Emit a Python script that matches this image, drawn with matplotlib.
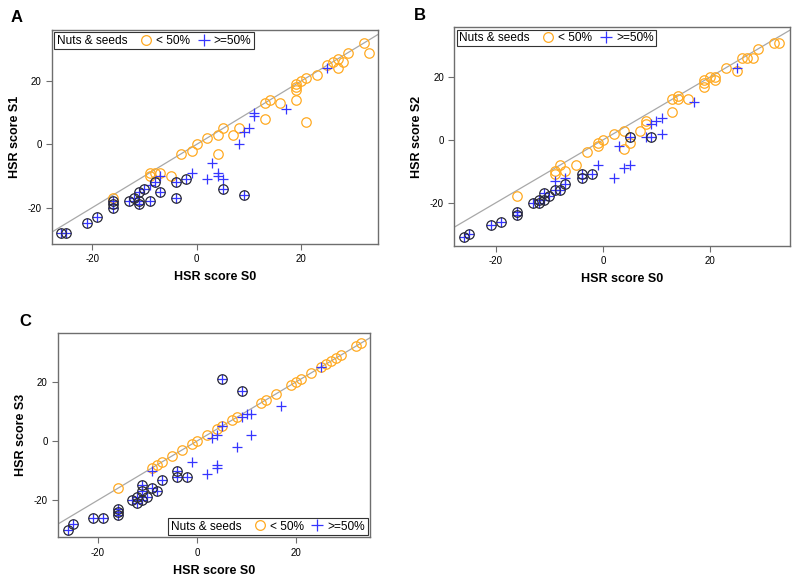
import matplotlib
matplotlib.use("Agg")
import matplotlib.pyplot as plt
from matplotlib.lines import Line2D
from matplotlib.offsetbox import HPacker

plt.rcParams['font.family'] = ['Liberation Sans', 'DejaVu Sans']
plt.rcParams['axes.unicode_minus'] = False

# ---- data (x = HSR score S0) ----
# panel A: S1
a_low_x = [32, 33, 29, 28, 27, 27, 26, 25, 23, 21, 20, 19, 19, 19, 19, 21, 14, 13, 16, 13,
           8, 7, 5, 4, 4, 2, 0, -1, -3, -5, -7, -8, -9, -9, -16]
a_low_y = [32, 29, 29, 26, 27, 24, 26, 25, 22, 21, 20, 19, 18, 17, 14, 7, 14, 13, 13, 8,
           5, 3, 5, 3, -3, 2, 0, -2, -3, -10, -9, -9, -9, -10, -17]
a_hi_x = [25, 17, 11, 11, 10, 9, 8, 3, 4, 4, 5, 2, -1, -7, -9]
a_hi_y = [24, 11, 10, 9, 5, 4, 0, -6, -9, -10, -11, -11, -9, -10, -13]
a_nut_x = [9, 5, -2, -4, -4, -7, -8, -9, -10, -11, -11, -11, -12, -13, -16, -16, -16, -19, -21, -26, -25]
a_nut_y = [-16, -14, -11, -12, -17, -15, -12, -18, -14, -15, -18, -19, -17, -18, -18, -19, -20, -23, -25, -28, -28]

# panel B: S2
b_low_x = [32, 33, 29, 28, 27, 26, 25, 23, 21, 21, 20, 19, 19, 19, 14, 14, 13, 16, 13, 8,
           8, 7, 5, 4, 4, 2, 0, -1, -1, -3, -5, -7, -8, -9, -9, -16]
b_low_y = [31, 31, 29, 26, 26, 26, 22, 23, 20, 19, 20, 19, 18, 17, 14, 13, 13, 13, 9, 6,
           5, 3, -1, 3, -3, 2, 0, -2, -1, -4, -8, -10, -8, -10, -11, -18]
b_hi_x = [25, 17, 11, 10, 11, 9, 8, 3, 5, 4, 2, -1, -7, -9]
b_hi_y = [23, 12, 7, 6, 2, 5, 1, -2, -8, -9, -12, -8, -12, -13]
b_nut_x = [9, 5, -2, -4, -4, -7, -8, -9, -10, -11, -11, -12, -12, -13, -16, -16, -19, -21, -25, -26]
b_nut_y = [1, 1, -11, -11, -12, -14, -16, -16, -18, -17, -19, -20, -19, -20, -23, -24, -26, -27, -30, -31]

# panel C: S3
c_low_x = [32, 33, 29, 28, 27, 26, 25, 23, 21, 20, 19, 16, 14, 13, 8, 7, 5, 4, 2, 0,
           -1, -3, -5, -7, -8, -9, -16]
c_low_y = [32, 33, 29, 28, 27, 26, 25, 23, 21, 20, 19, 16, 14, 13, 8, 7, 5, 4, 2, 0,
           -1, -3, -5, -7, -8, -9, -16]
c_hi_x = [25, 17, 11, 10, 9, 11, 8, 5, 4, 3, 4, 4, 2, -1, -9]
c_hi_y = [25, 12, 9, 9, 8, 2, -2, 5, 2, 1, -8, -9, -11, -7, -10]
c_nut_x = [5, 9, -2, -4, -4, -7, -8, -9, -11, -11, -10, -11, -12, -12, -13, -16, -16, -16, -19, -21, -25, -26]
c_nut_y = [21, 17, -12, -10, -12, -13, -17, -16, -15, -17, -19, -20, -21, -19, -20, -23, -24, -25, -26, -26, -28, -30]

ticks = [-20, 0, 20]
ORANGE = '#FFAA22'
BLUE = '#3535FF'
DARK = '#2a2a35'
FRAME = '#6e6e6e'
LEGFS = 8.6

fig = plt.figure(figsize=(7.98, 5.81), dpi=100)


def add_legend(ax, loc):
    h1 = Line2D([], [], marker='o', ls='none', mfc='none', mec=ORANGE, ms=7, mew=0.9)
    h2 = Line2D([], [], marker='+', ls='none', color=BLUE, ms=8, mew=0.9)
    leg = ax.legend([h1, h2], ['< 50%', '>=50%'], title='Nuts & seeds', loc=loc, ncol=2,
                    fontsize=LEGFS, title_fontsize=LEGFS, fancybox=False, framealpha=1,
                    edgecolor='#333333', borderaxespad=0.2, borderpad=0.2,
                    handlelength=1.1, handletextpad=0.3, columnspacing=0.6)
    leg.get_frame().set_linewidth(0.8)
    # title on the left of the entries, on one row
    box = HPacker(pad=leg.borderpad * LEGFS, sep=1.0 * LEGFS, align='center',
                  children=[leg._legend_title_box, leg._legend_handle_box])
    box.set_figure(fig)
    box.axes = ax
    leg._legend_box = box
    leg._set_loc(leg._loc)


def panel(rect, lx, ly, hx, hy, nx, ny, ylab, xlim, ylim, letter, lpos, legloc):
    ax = fig.add_axes(rect)
    ax.axline((0, 0), slope=1, color='#a8a8a8', lw=0.9, zorder=1)
    ax.plot(lx, ly, ls='none', marker='o', mfc='none', mec=ORANGE, ms=6.8, mew=0.9, zorder=2)
    ax.plot(hx, hy, ls='none', marker='+', color=BLUE, ms=7.5, mew=0.9, zorder=3)
    ax.plot(nx, ny, ls='none', marker='+', color=BLUE, ms=7.5, mew=0.9, zorder=3)
    ax.plot(nx, ny, ls='none', marker='o', mfc='none', mec=DARK, ms=6.8, mew=0.9, zorder=4)
    ax.set_xlim(xlim)
    ax.set_ylim(ylim)
    ax.set_xticks(ticks)
    ax.set_yticks(ticks)
    ax.tick_params(labelsize=7, length=4, width=0.8, color=FRAME)
    for s in ax.spines.values():
        s.set_color(FRAME)
        s.set_linewidth(1.0)
    ax.set_xlabel('HSR score S0', fontsize=9, fontweight='bold', labelpad=5)
    ax.set_ylabel(ylab, fontsize=9, fontweight='bold', labelpad=5)
    fig.text(lpos[0] / 798, 1 - lpos[1] / 581, letter, fontsize=12, fontweight='bold',
             ha='center', va='center')
    add_legend(ax, legloc)
    return ax


panel([0.0652, 0.58, 0.4085, 0.3683], a_low_x, a_low_y, a_hi_x, a_hi_y, a_nut_x, a_nut_y,
      'HSR score S1', (-27.7, 34.7), (-31.5, 36.1), 'A', (17, 17), 'upper left')
panel([0.5693, 0.5766, 0.4207, 0.3764], b_low_x, b_low_y, b_hi_x, b_hi_y, b_nut_x, b_nut_y,
      'HSR score S2', (-27.8, 35.0), (-33.8, 35.9), 'B', (420, 15), 'upper left')
panel([0.0727, 0.0752, 0.391, 0.3511], c_low_x, c_low_y, c_hi_x, c_hi_y, c_nut_x, c_nut_y,
      'HSR score S3', (-28.0, 34.9), (-32.5, 36.4), 'C', (25, 322), 'lower right')

fig.savefig('out.png', dpi=100)
